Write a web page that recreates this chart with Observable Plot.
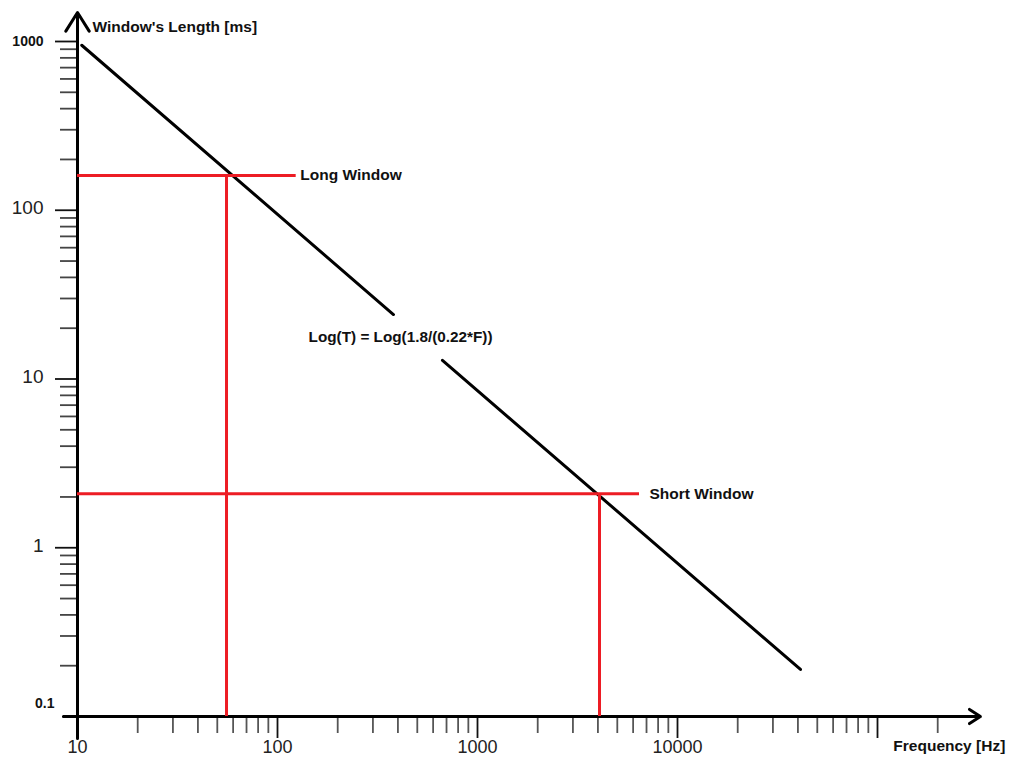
<!DOCTYPE html>
<html><head><meta charset="utf-8">
<script src="https://cdn.jsdelivr.net/npm/d3@7"></script>
<script src="https://cdn.jsdelivr.net/npm/@observablehq/plot@0.6"></script>
<style>
body{margin:0;background:#fff;}
svg{font-family:"Liberation Sans",Arial,sans-serif;}
</style></head><body><div id="chart"></div>
<script>
// Law line T(F) drawn in two pieces (gap around the formula)
const lawLine = [
  {F: 10.5, T: 950, seg: 1}, {F: 380, T: 24.1, seg: 1},
  {F: 668, T: 12.9, seg: 2}, {F: 41200, T: 0.19, seg: 2}
];
// Window markers
const windowNames = ["Long Window", "Short Window"];
const windowF = [55.6, 4074];
const windowT = [160.7, 2.09];
const windowLineEndF = [124, 6457];
const windowLabelF = [130, 7244];
const formulaText = "Log(T) = Log(1.8/(0.22*F))";
const formulaPos = {F: 143, T: 17.6};

// Ticks
const xMajorTicks = [100, 1000, 10000, 100000];
const xMinorTicks = [20,30,40,50,60,70,80,90, 200,300,400,500,600,700,800,900,
  2000,3000,4000,5000,6000,7000,8000,9000, 20000,30000,40000,50000,60000,70000,80000,90000, 200000];
const xTickLabels = [10, 100, 1000, 10000];
const yMajorTicks = [1000, 100, 10, 1];
const yMinorTicks = [200,300,400,500,600,700,800,900, 20,30,40,50,60,70,80,90,
  2,3,4,5,6,7,8,9, 0.2,0.3,0.4,0.5,0.6,0.7,0.8,0.9];
const yTickLabelsLarge = [100, 10, 1];
const yTickLabelsBold = [1000];
const yBottomLabel = [0.1];

// Axis extents (with arrow tips)
const xAxisExtent = [8.5, 327000];
const yAxisExtent = [0.074, 1486];
const yAxisTitle = {text: "Window's Length [ms]", T: 1210};
const xAxisTitle = {text: "Frequency [Hz]", F: 120000};

const windows = windowNames.map((name, i) => ({name, F: windowF[i], T: windowT[i], endF: windowLineEndF[i], labelF: windowLabelF[i]}));
const RED = "#ed1c24";

const chart = Plot.plot({
  width: 1010,
  height: 758,
  marginLeft: 77,
  marginBottom: 42,
  marginTop: 41,
  marginRight: 133,
  style: {fontFamily: "'Liberation Sans', Arial, sans-serif", background: "#fff"},
  x: {type: "log", domain: [10, 100000], range: [77, 877]},
  y: {type: "log", domain: [0.1, 1000], range: [716, 41]},
  marks: [
    // ticks
    Plot.axisX(xMinorTicks, {tickSize: 17, fill: "none", stroke: "#555", strokeWidth: 1.8, label: null}),
    Plot.axisX(xMajorTicks, {tickSize: 22, fill: "none", stroke: "#111", strokeWidth: 1.8, label: null}),
    Plot.axisY(yMinorTicks, {tickSize: 17, fill: "none", stroke: "#444", strokeWidth: 1.8, label: null}),
    Plot.axisY(yMajorTicks, {tickSize: 22, fill: "none", stroke: "#111", strokeWidth: 1.8, label: null}),
    // tick labels
    Plot.text(xTickLabels, {x: d => d, y: 0.1, dy: 31, text: d => String(d), fontSize: 18, fill: "#222"}),
    Plot.text(yTickLabelsLarge, {x: 10, y: d => d, dx: -34, dy: -2, textAnchor: "end", text: d => String(d), fontSize: 19, fill: "#222"}),
    Plot.text(yTickLabelsBold, {x: 10, y: d => d, dx: -34, textAnchor: "end", text: d => String(d), fontSize: 14, fontWeight: "bold", fill: "#111"}),
    Plot.text(yBottomLabel, {x: 10, y: d => d, dx: -23, dy: -13, textAnchor: "end", text: d => String(d), fontSize: 14, fontWeight: "bold", fill: "#111"}),
    // axes with arrows
    Plot.arrow([0], {x1: 10, x2: 10, y1: yAxisExtent[0], y2: yAxisExtent[1], stroke: "#000", strokeWidth: 3, headLength: 11, headAngle: 64}),
    Plot.arrow([0], {x1: xAxisExtent[0], x2: xAxisExtent[1], y1: 0.1, y2: 0.1, stroke: "#000", strokeWidth: 3, headLength: 6.5, headAngle: 66}),
    // axis titles
    Plot.text([yAxisTitle], {x: 10, y: "T", dx: 15, text: "text", textAnchor: "start", fontSize: 15.5, fontWeight: "bold", fill: "#111"}),
    Plot.text([xAxisTitle], {x: "F", y: 0.1, dy: 30, text: "text", textAnchor: "start", fontSize: 15.5, fontWeight: "bold", fill: "#111"}),
    // law line
    Plot.line(lawLine, {x: "F", y: "T", z: "seg", stroke: "#000", strokeWidth: 3}),
    // window markers
    Plot.ruleY(windows, {y: "T", x1: 10, x2: "endF", stroke: RED, strokeWidth: 3}),
    Plot.ruleX(windows, {x: "F", y1: 0.1, y2: "T", stroke: RED, strokeWidth: 3}),
    Plot.text(windows, {x: "labelF", y: "T", text: "name", textAnchor: "start", fontSize: 15.5, fontWeight: "bold", fill: "#111"}),
    Plot.text([formulaPos], {x: "F", y: "T", text: () => formulaText, textAnchor: "start", fontSize: 15.3, fontWeight: "bold", fill: "#111"})
  ]
});
document.getElementById("chart").appendChild(chart);
</script>
</body></html>
